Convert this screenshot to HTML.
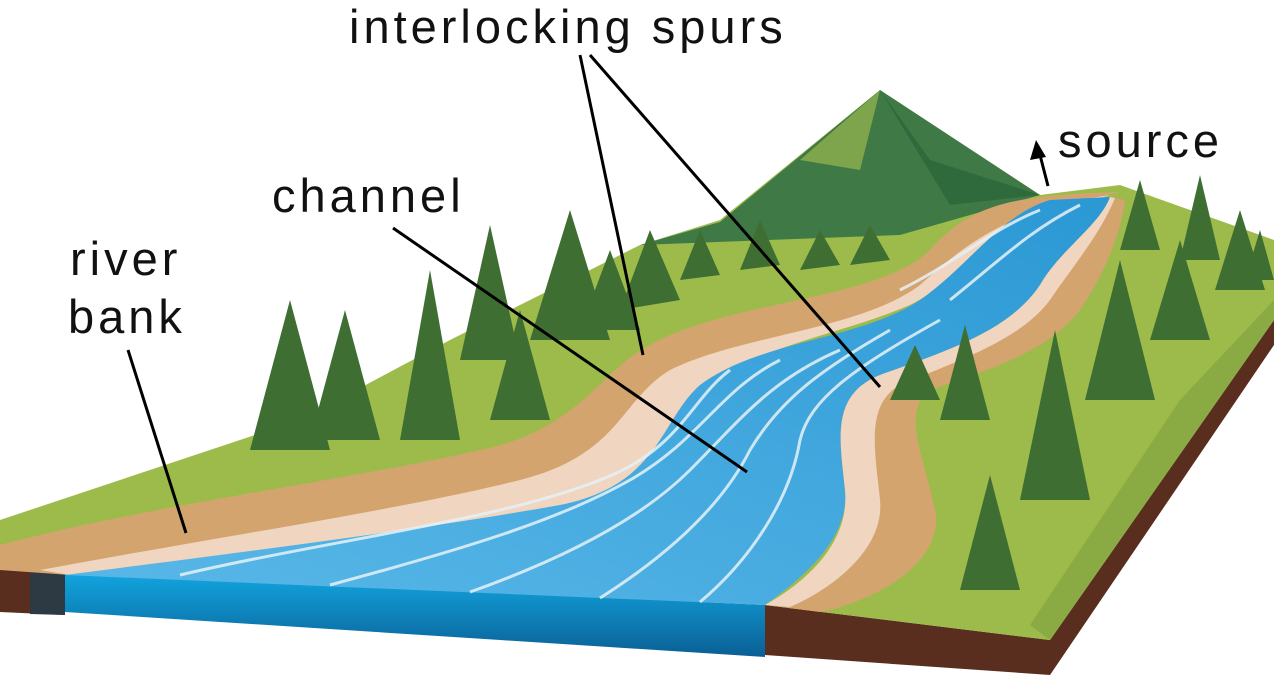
<!DOCTYPE html>
<html><head><meta charset="utf-8"><style>
html,body{margin:0;padding:0;background:#fff;width:1274px;height:678px;overflow:hidden}
svg{display:block}
text{font-family:"Liberation Sans",sans-serif;font-size:47px;letter-spacing:4px;fill:#111}
</style></head><body>
<svg width="1274" height="678" viewBox="0 0 1274 678">
<defs>
<linearGradient id="wf" x1="0" y1="0" x2="0" y2="1"><stop offset="0" stop-color="#12a6e0"/><stop offset="1" stop-color="#0a5f95"/></linearGradient>
<linearGradient id="wt" x1="0" y1="1" x2="1" y2="0"><stop offset="0" stop-color="#5ab8e8"/><stop offset="1" stop-color="#2b98d4"/></linearGradient>
</defs>
<polygon points="1274,320 1274,345 1050,675 1050,640" fill="#5a2e1f"/>
<polygon points="765,605 1050,640 1050,675 765,655" fill="#5a2e1f"/>
<polygon points="0,568 65,572 65,615 0,612" fill="#5a2e1f"/>
<polygon points="30,570 65,572 65,615 30,614" fill="#2d3a44"/>
<polygon points="65,572 765,605 765,657 500,640 65,612" fill="url(#wf)"/>
<path d="M0,520 L300,420 L450,340 L640,245 L720,220 L880,90 L1040,195 L1120,185 L1274,240 L1274,320 L1050,640 L765,605 L65,572 L0,568 Z" fill="#9dbb4b"/>
<path d="M640,245 L720,222 L880,90 L1040,195 L900,235 Z" fill="#3f7a46"/>
<path d="M880,90 L930,160 L1040,195 L950,205 Z" fill="#2f6a3c"/>
<path d="M800,160 L880,90 L860,170 Z" fill="#7ea54b"/>
<path d="M1180,400 L1274,300 L1274,320 L1050,640 L1030,625 Z" fill="#7d9e40" opacity=".6"/>
<path d="M0,545 C150,505 350,480 480,450 C580,430 600,370 650,345 C730,300 880,300 930,250 C970,205 1010,195 1120,192 L1040,210 C990,230 960,270 900,300 C830,330 760,340 700,380 C650,410 640,470 540,500 C400,530 200,540 70,575 L0,570 Z" fill="#d4a46e"/>
<path d="M40,570 C200,540 400,510 520,480 C620,455 620,400 670,370 C740,335 860,330 920,285 C970,240 1010,210 1110,195 L1050,215 C990,235 960,280 910,305 C840,335 760,345 710,385 C670,420 660,480 560,510 C420,545 220,560 70,575 Z" fill="#f0d5c0"/>
<path d="M65,575 C220,555 420,530 560,505 C660,485 660,420 700,385 C760,340 860,340 920,300 C970,265 1000,215 1050,200 L1110,197 C1100,225 1060,250 1040,285 C1010,330 950,350 880,375 C830,395 840,440 845,490 C850,540 800,580 765,605 Z" fill="url(#wt)"/>
<g fill="none" stroke="#e6f2f8" stroke-width="3" opacity=".85">
<path d="M180,575 C330,540 500,520 600,480 C680,450 690,400 730,370"/>
<path d="M330,585 C460,550 560,520 630,480 C700,440 720,390 780,360"/>
<path d="M470,592 C560,560 640,520 690,470 C740,420 770,380 840,350"/>
<path d="M600,598 C660,560 720,510 750,450 C780,400 820,370 890,330"/>
<path d="M700,602 C750,560 790,500 800,440 C810,400 850,370 940,320"/>
<path d="M900,290 C960,260 990,230 1040,210"/>
<path d="M950,300 C1000,260 1030,230 1080,205"/>
</g>
<path d="M765,605 C810,580 850,540 845,490 C840,440 830,395 880,375 C950,350 1010,330 1040,285 C1060,250 1100,225 1110,197 L1125,200 C1120,240 1100,280 1080,310 C1050,350 990,370 930,390 C900,410 925,460 935,510 C945,560 880,600 820,612 Z" fill="#d4a46e"/>
<path d="M765,605 C810,580 850,540 845,490 C840,440 830,395 880,375 C950,350 1010,330 1040,285 C1060,250 1100,225 1110,197 L1115,198 C1100,235 1070,270 1050,300 C1020,340 960,360 900,385 C865,405 875,450 880,500 C885,550 830,590 790,607 Z" fill="#f0d5c0"/>
<g fill="#3f6e33">
<polygon points="290,300 250,450 330,450"/><polygon points="345,310 310,440 380,440"/>
<polygon points="430,270 400,440 460,440"/><polygon points="490,225 460,360 520,360"/>
<polygon points="520,310 490,420 550,420"/><polygon points="570,210 530,340 610,340"/>
<polygon points="610,250 580,330 640,330"/><polygon points="650,230 620,310 680,300"/>
<polygon points="700,230 680,280 720,275"/><polygon points="760,220 740,270 780,265"/>
<polygon points="820,230 800,270 840,265"/><polygon points="870,225 850,265 890,260"/>
<polygon points="915,345 890,400 940,400"/><polygon points="965,325 940,420 990,420"/>
<polygon points="1055,330 1020,500 1090,500"/><polygon points="1120,260 1085,400 1155,400"/>
<polygon points="1180,240 1150,340 1210,340"/><polygon points="1140,180 1120,250 1160,250"/>
<polygon points="1200,175 1180,260 1220,260"/><polygon points="1240,210 1215,290 1265,290"/>
<polygon points="990,475 960,590 1020,590"/><polygon points="1260,230 1245,280 1274,280"/>
</g>
<text x="349" y="43">interlocking spurs</text>
<text x="272" y="212">channel</text>
<text x="70" y="275">river</text>
<text x="68" y="333">bank</text>
<text x="1058" y="157">source</text>
<g stroke="#000" stroke-width="3">
<line x1="580" y1="55" x2="643" y2="355"/>
<line x1="590" y1="55" x2="880" y2="387"/>
<line x1="393" y1="228" x2="747" y2="472"/>
<line x1="128" y1="350" x2="186" y2="533"/>
<line x1="1048" y1="186" x2="1040" y2="155"/>
</g>
<polygon points="1036,140 1030,160 1046,157" fill="#000"/>
</svg>
</body></html>
